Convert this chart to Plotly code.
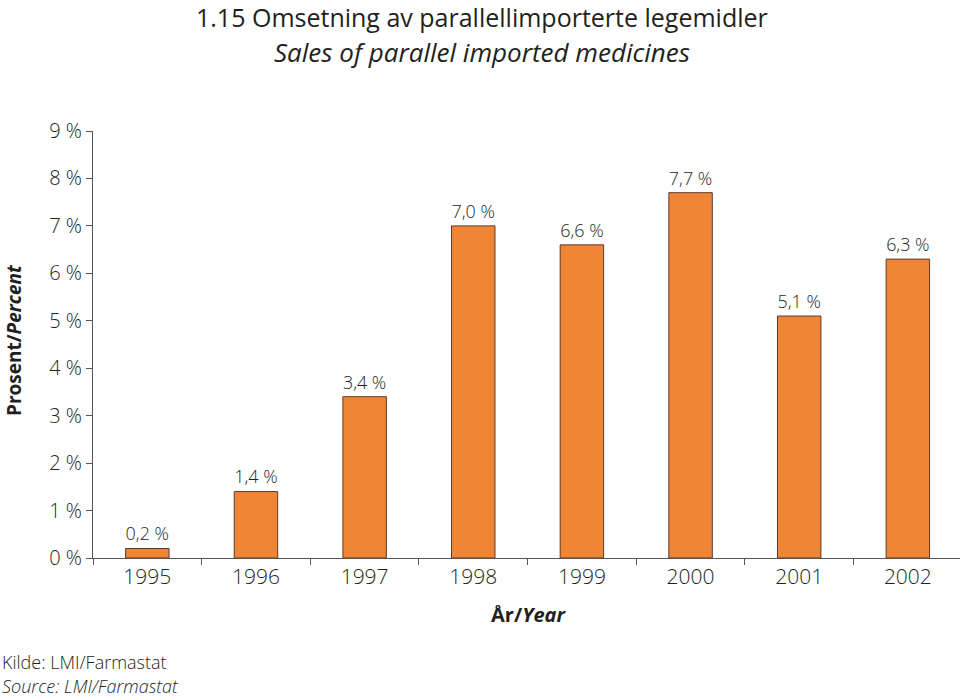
import plotly.graph_objects as go

years = ["1995", "1996", "1997", "1998", "1999", "2000", "2001", "2002"]
values = [0.2, 1.4, 3.4, 7.0, 6.6, 7.7, 5.1, 6.3]
value_labels = ["0,2 %", "1,4 %", "3,4 %", "7,0 %", "6,6 %", "7,7 %", "5,1 %", "6,3 %"]
y_ticks = [0, 1, 2, 3, 4, 5, 6, 7, 8, 9]
y_tick_labels = ["0 %", "1 %", "2 %", "3 %", "4 %", "5 %", "6 %", "7 %", "8 %", "9 %"]

FONT = "Open Sans"
TXT = "#231f20"

W, H = 960, 697
l, r, t, b = 93, 0, 131, 697 - 558
pw, ph = W - l - r, H - t - b


def px2paper(x, y):
    return (x - l) / pw, (H - b - y) / ph


fig = go.Figure(go.Bar(
    x=years, y=values, text=value_labels,
    textposition="outside", cliponaxis=False,
    textfont=dict(family=FONT, size=21, color=TXT, weight=300),
    marker=dict(color="#F08536", line=dict(color="#5a3b2a", width=1)),
    width=0.4,
))

ann_specs = [
    ("1.15 Omsetning av parallellimporterte legemidler", 482, 17, 25, "center", 0, 400),
    ("<i>Sales of parallel imported medicines</i>", 482, 52, 26, "center", 0, 400),
    ("<b>Prosent/<i>Percent</i></b>", 14, 340, 19, "center", -90, 600),
    ("Kilde: LMI/Farmastat", 0, 662, 18, "left", 0, 300),
    ("<i>Source: LMI/Farmastat</i>", 0, 686, 18, "left", 0, 300),
    ("<b>År/<i>Year</i></b>", 528, 614, 20, "center", 0, 600),
]
annotations = []
for text, x, y, size, xa, ang, wt in ann_specs:
    ax, ay = px2paper(x, y)
    annotations.append(dict(
        text=text, x=ax, y=ay, xref="paper", yref="paper", xanchor=xa,
        yanchor="middle", showarrow=False, textangle=ang,
        font=dict(family=FONT, size=size, color=TXT, weight=wt),
    ))

fig.update_layout(
    width=W, height=H,
    margin=dict(l=l, r=r, t=t, b=b),
    paper_bgcolor="white", plot_bgcolor="white",
    showlegend=False,
    font=dict(family=FONT, color=TXT),
    xaxis=dict(
        type="category", range=[-0.5, 7.48],
        showline=True, linecolor="#555", linewidth=1,
        ticks="outside", tickson="boundaries", ticklen=6, tickcolor="#555",
        tickfont=dict(family=FONT, size=21, color=TXT, weight=300),
        showgrid=False,
    ),
    yaxis=dict(
        range=[0, 9], tickvals=y_ticks, ticktext=y_tick_labels,
        showline=True, linecolor="#555", linewidth=1,
        ticks="outside", ticklen=6, tickcolor="#555",
        tickfont=dict(family=FONT, size=20, color=TXT, weight=300),
        showgrid=False, zeroline=False,
    ),
    annotations=annotations,
)

fig.write_html("out.html", config={"displayModeBar": False},
               post_script="document.body.style.margin='0';")
